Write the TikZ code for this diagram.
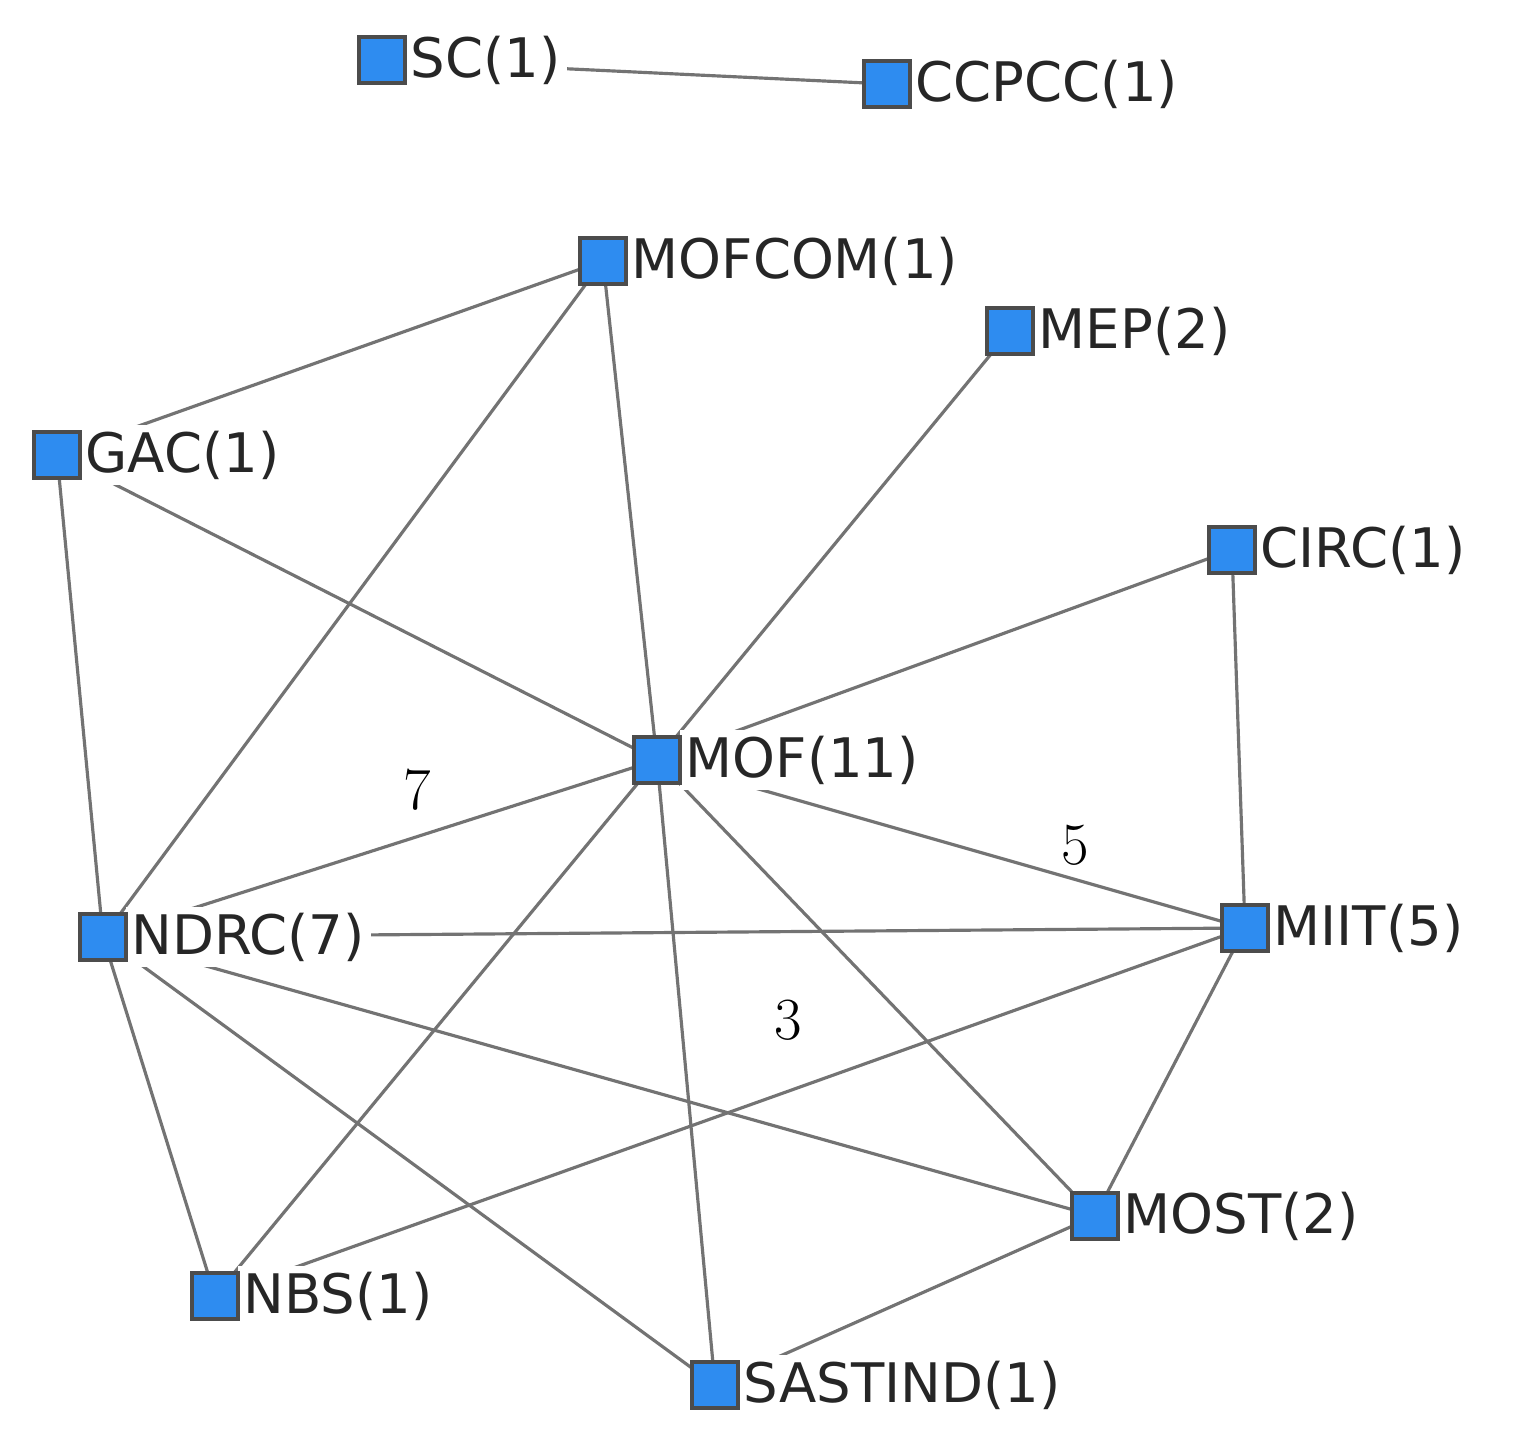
\documentclass[tikz,border=0pt]{standalone}
\usepackage{fontspec}
\newfontfamily\lab{DejaVu Sans}
\usetikzlibrary{positioning}
\begin{document}
\begin{tikzpicture}[x=0.01cm,y=-0.01cm,
  sq/.style={draw=black!70,line width=1.2pt,fill={rgb,255:red,46;green,140;blue,240},minimum size=0.46cm,inner sep=0pt},
  lb/.style={fill=white,inner sep=0.06cm,font=\lab\fontsize{15.5}{18}\selectfont,text=black!85,anchor=west},
  ed/.style={draw=black!55,line width=0.9pt},
  num/.style={font=\fontsize{17}{20}\selectfont}]
\useasboundingbox (0,0) rectangle (1515,1452);
\foreach \n/\x/\y in {sc/382/60,ccpcc/887/84,mofcom/603/261,mep/1010/331,
  gac/57/455,circ/1232/550,mof/657/760,ndrc/103/937,miit/1245/928,
  most/1095/1216,nbs/215/1296,sastind/715/1385}
  \coordinate (\n) at (\x,\y);
\foreach \a/\b in {sc/ccpcc,mofcom/gac,mofcom/mof,mofcom/ndrc,mep/mof,gac/mof,gac/ndrc,circ/mof,circ/miit,
  mof/ndrc,mof/miit,mof/nbs,mof/sastind,mof/most,ndrc/miit,ndrc/most,ndrc/nbs,ndrc/sastind,miit/nbs,miit/most,most/sastind}
  \draw[ed] (\a) -- (\b);
\foreach \n/\t in {sc/SC(1),ccpcc/CCPCC(1),mofcom/MOFCOM(1),mep/MEP(2),gac/GAC(1),circ/CIRC(1),mof/MOF(11),
  ndrc/NDRC(7),miit/MIIT(5),most/MOST(2),nbs/NBS(1),sastind/SASTIND(1)}{
  \node[lb] (\n l) at ([xshift=-0.01cm]\n.east) at ([xshift=0.22cm]\n) {\t};
  \node[sq] (\n s) at (\n) {};
}
\node[num] (n7) at (417,790) {7};
\node[num] (n5) at (1075,845) {5};
\node[num] (n3) at (788,1020) {3};
\end{tikzpicture}
\end{document}
